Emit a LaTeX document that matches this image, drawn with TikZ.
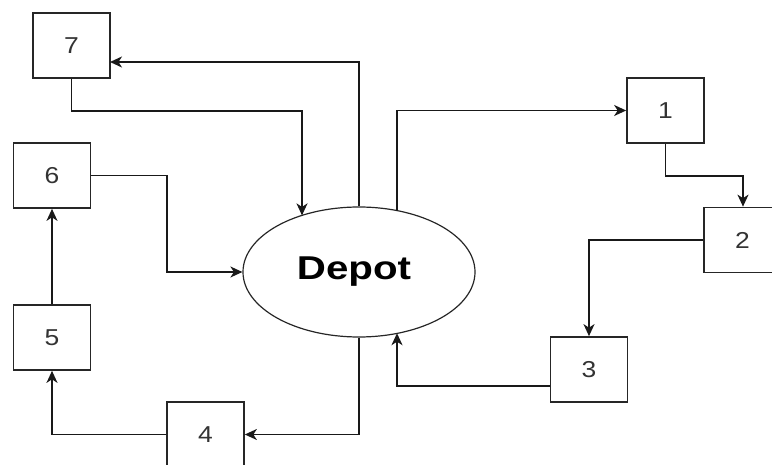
\documentclass[tikz,border=0pt]{standalone}
\usepackage{fontspec}
\setmainfont{Liberation Sans}
\usetikzlibrary{arrows.meta,shapes.geometric}
\begin{document}
\begin{tikzpicture}[x=1pt,y=-1pt,
  box/.style={draw=black!85,line width=1.7pt,minimum width=77pt,minimum height=65pt,inner sep=0pt,
    font=\fontsize{23}{23}\selectfont,text=black!80},
  depotnode/.style={draw=black!85,line width=1.2pt,shape=ellipse,minimum width=232pt,minimum height=130pt,inner sep=0pt},
  arr/.style={draw=black!90,line width=1.6pt,-{Stealth[length=12pt,width=11pt,inset=3.5pt]}}]
\useasboundingbox (0,0) rectangle (772,465);
\node[depotnode] (depot) at (359,272) {};
\node[xscale=1.22,font=\fontsize{33}{33}\selectfont\bfseries] (depotlbl) at (354,272) {Depot};
\node[box] (n7) at (71.5,45.5) {\scalebox{1.15}[1]{7}};
\node[box] (n6) at (52,175.5) {\scalebox{1.15}[1]{6}};
\node[box] (n5) at (52,337.5) {\scalebox{1.15}[1]{5}};
\node[box] (n4) at (205.5,434.5) {\scalebox{1.15}[1]{4}};
\node[box] (n3) at (589,369.5) {\scalebox{1.15}[1]{3}};
\node[box] (n2) at (742.5,240) {\scalebox{1.15}[1]{2}};
\node[box] (n1) at (665.5,110.5) {\scalebox{1.15}[1]{1}};
% waypoints
\coordinate (t7) at (110,62);
\coordinate (b7) at (302,111);
\coordinate (e7) at (302,215.4);
\coordinate (s1) at (397,210.8);
\coordinate (b1) at (743,176);
\coordinate (w3) at (550,386);
\coordinate (e3) at (397,333.2);
\coordinate (b6) at (167,272);
% connectors
\draw[arr] (depot.north) |- (t7);
\draw[arr] (n7.south) |- (b7) -- (e7);
\draw[arr] (n6.east) -| (b6) -- (depot.west);
\draw[arr] (s1) |- (n1.west);
\draw[arr] (n1.south) |- (b1) -- (n2.north -| b1);
\draw[arr] (n2.west) -| (n3.north);
\draw[arr] (w3) -| (e3);
\draw[arr] (depot.south) |- (n4.east);
\draw[arr] (n4.west) -| (n5.south);
\draw[arr] (n5.north) -- (n6.south);
\end{tikzpicture}
\end{document}
